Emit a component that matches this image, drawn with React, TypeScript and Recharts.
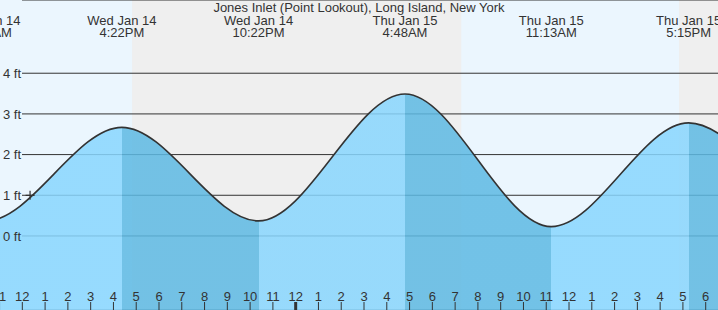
import React from 'react';
import {
  ComposedChart,
  Area,
  XAxis,
  YAxis,
  CartesianGrid,
  ReferenceArea,
  ReferenceLine,
  ReferenceDot,
} from 'recharts';

// times are hours since Wed Jan 14 00:00
const tideTimes = [4.1, 10.4, 16.37, 22.37, 28.8, 35.22, 41.25, 47.5, 53.8];
const tideHeights = [2.7, 0.37, 2.67, 0.37, 3.49, 0.23, 2.78, 0.45, 3.3];
const tideDays = [
  'Wed Jan 14', 'Wed Jan 14', 'Wed Jan 14', 'Wed Jan 14', 'Thu Jan 15',
  'Thu Jan 15', 'Thu Jan 15', 'Thu Jan 15', 'Fri Jan 16',
];
const tideClock = ['4:06AM', '10:24AM', '4:22PM', '10:22PM', '4:48AM', '11:13AM', '5:15PM', '11:30PM', '5:48AM'];

const nightStart = [16.82, 40.83];
const nightEnd = [31.27, 55.28];

const hourTicks = [
  11, 12, 13, 14, 15, 16, 17, 18, 19, 20, 21, 22, 23, 24, 25, 26,
  27, 28, 29, 30, 31, 32, 33, 34, 35, 36, 37, 38, 39, 40, 41, 42,
];
const footTicks = [0, 1, 2, 3, 4];

const nowTime = 12.34;
const nowHeight = 1.0;

const TITLE = 'Jones Inlet (Point Lookout), Long Island, New York';
const FONT = '"Liberation Sans", Arial, sans-serif';
const INK = '#333333';
const RISE = '#88d6fe';
const FALL = '#5db9e3';
const DAY_BG = '#ebf6fe';
const NIGHT_BG = '#efefef';

const chartData = tideTimes.map((t, i) => ({ t, h: tideHeights[i] }));

function HourTick(props: any) {
  const { x, payload } = props;
  const v = payload.value as number;
  const label = v % 12 === 0 ? 12 : v % 12;
  const midnight = v % 24 === 0;
  return (
    <g>
      <text x={x} y={300.5} textAnchor="middle" fontSize={13} fontFamily={FONT} fill={INK}>
        {label}
      </text>
      <line x1={x} x2={x} y1={302} y2={310} stroke={INK} strokeWidth={midnight ? 3 : 1} />
    </g>
  );
}

function FootTick(props: any) {
  const { y, payload } = props;
  return (
    <text x={3} y={y} dy={4.6} textAnchor="start" fontSize={13} fontFamily={FONT} fill={INK}>
      {payload.value} ft
    </text>
  );
}

function extremeLabel(day: string, clock: string) {
  return (props: any) => {
    const vb = props.viewBox || {};
    return (
      <g>
        <text x={vb.x} y={24.6} textAnchor="middle" fontSize={13} fontFamily={FONT} fill={INK}>
          {day}
        </text>
        <text x={vb.x} y={37} textAnchor="middle" fontSize={13} fontFamily={FONT} fill={INK}>
          {clock}
        </text>
      </g>
    );
  };
}

function Cross(props: any) {
  const { cx, cy } = props;
  return <path d={`M${cx - 4.5},${cy}h9M${cx},${cy - 4.5}v9`} stroke={INK} strokeWidth={1.2} fill="none" />;
}

export default function App() {
  const tFirst = tideTimes[0];
  const span = tideTimes[tideTimes.length - 1] - tFirst;
  const stops: React.ReactNode[] = [];
  for (let i = 0; i < tideTimes.length - 1; i++) {
    const color = tideHeights[i + 1] > tideHeights[i] ? RISE : FALL;
    stops.push(<stop key={`a${i}`} offset={(tideTimes[i] - tFirst) / span} stopColor={color} />);
    stops.push(<stop key={`b${i}`} offset={(tideTimes[i + 1] - tFirst) / span} stopColor={color} />);
  }

  return (
    <div style={{ position: 'absolute', left: 0, top: 0, width: 718, height: 310, background: DAY_BG }}>
      <ComposedChart width={718} height={310} data={chartData} margin={{ top: 0, right: 0, bottom: 0, left: 0 }}>
        <defs>
          <linearGradient id="tideFill" x1="0" y1="0" x2="1" y2="0">
            {stops}
          </linearGradient>
        </defs>
        {nightStart.map((s, i) => (
          <ReferenceArea
            key={`n${i}`}
            x1={s}
            x2={nightEnd[i]}
            fill={NIGHT_BG}
            fillOpacity={1}
            stroke="none"
            ifOverflow="hidden"
            zIndex={-200}
          />
        ))}
        <CartesianGrid x={22} width={696} vertical={false} stroke={INK} strokeOpacity={1} zIndex={-100} />
        <XAxis
          dataKey="t"
          type="number"
          domain={[11.02, 42.54]}
          allowDataOverflow
          ticks={hourTicks}
          interval={0}
          height={1}
          mirror
          axisLine={false}
          tickLine={false}
          tickSize={0}
          tickMargin={0}
          tick={<HourTick />}
        />
        <YAxis
          type="number"
          domain={[-1.82, 5.8]}
          allowDataOverflow
          ticks={footTicks}
          interval={0}
          width={1}
          mirror
          axisLine={false}
          tickLine={false}
          tick={<FootTick />}
        />
        <Area
          type="monotoneX"
          dataKey="h"
          baseValue="dataMin"
          stroke={INK}
          strokeWidth={1.6}
          fill="url(#tideFill)"
          fillOpacity={0.85}
          dot={false}
          activeDot={false}
          isAnimationActive={false}
          zIndex={100}
        />
        {tideTimes.map((t, i) => (
          <ReferenceLine
            key={`e${i}`}
            x={t}
            stroke="none"
            ifOverflow="visible"
            label={extremeLabel(tideDays[i], tideClock[i])}
            zIndex={2000}
          />
        ))}
        <ReferenceDot x={nowTime} y={nowHeight} r={5} shape={<Cross />} zIndex={1200} />
      </ComposedChart>
      <div
        style={{
          position: 'absolute',
          left: 0,
          top: 0,
          width: 718,
          textAlign: 'center',
          fontFamily: FONT,
          fontSize: 13,
          lineHeight: '15px',
          color: INK,
          pointerEvents: 'none',
        }}
      >
        {TITLE}
      </div>
    </div>
  );
}
